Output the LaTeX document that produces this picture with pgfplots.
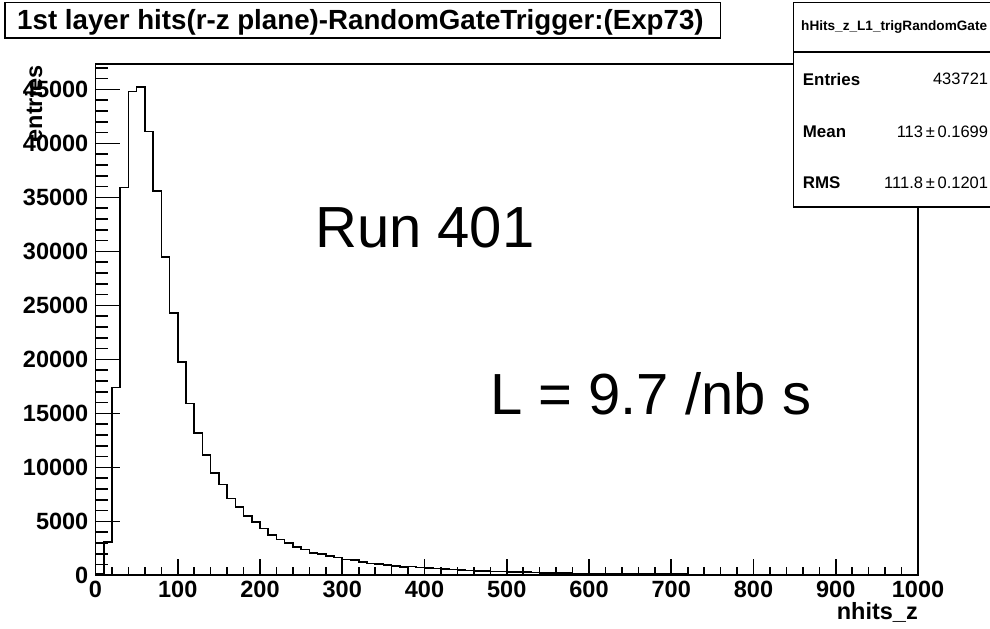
\documentclass[border=0pt]{standalone}
\usepackage{fontspec}
\setmainfont{Liberation Sans}
\usepackage{pgfplots}
\pgfplotsset{compat=1.18}
\newcommand{\tickfont}{\fontsize{23.5bp}{24bp}\selectfont\bfseries}
\begin{document}
\begin{tikzpicture}
\useasboundingbox (0bp,0bp) rectangle (990bp,629bp);
\clip (0bp,0bp) rectangle (990bp,629bp);
\fill[white] (0bp,0bp) rectangle (990bp,629bp);
% main axis: frame, y ticks, histogram
\begin{axis}[
  at={(95.5bp,53.7bp)}, anchor=south west,
  scale only axis, width=822.5bp, height=511.3bp,
  xmin=0, xmax=1000, ymin=0, ymax=47350,
  axis line style={line width=1.6bp, black},
  xtick=\empty,
  ytick={0,5000,...,45000},
  minor ytick={1000,2000,...,47000},
  ytick pos=left, tick align=inside,
  major tick length=25bp, minor tick length=12.7bp,
  tick style={line width=1.6bp, black},
  scaled y ticks=false,
  /pgf/number format/assume math mode=true,
  /pgf/number format/1000 sep={},
  yticklabel style={font=\tickfont, anchor=east, inner sep=0pt, xshift=-7bp},
]
\addplot[const plot, mark=none, line width=1.6bp, black] coordinates {
(0,150) (10,3100) (20,17400) (30,35900) (40,44800) (50,45200) (60,41100) (70,35600) (80,29450) (90,24300)
(100,19750) (110,15900) (120,13150) (130,11150) (140,9500) (150,8400) (160,7120) (170,6340) (180,5480) (190,4950)
(200,4340) (210,3710) (220,3310) (230,3000) (240,2620) (250,2400) (260,2090) (270,1960) (280,1780) (290,1660)
(300,1480) (310,1400) (320,1240) (330,1080) (340,1030) (350,960) (360,870) (370,760) (380,800) (390,720)
(400,700) (410,640) (420,570) (430,540) (440,480) (450,450) (460,420) (470,390) (480,360) (490,340)
(500,320) (510,300) (520,280) (530,260) (540,230) (550,215) (560,200) (570,190) (580,180) (590,170)
(600,160) (610,150) (620,145) (630,140) (640,135) (650,130) (660,125) (670,120) (680,110) (690,105)
(700,100) (710,95) (720,90) (730,85) (740,80) (750,75) (760,70) (770,65) (780,0) (790,0)
(800,0) (810,0) (820,0) (830,0) (840,0) (850,0) (860,0) (870,0) (880,0) (890,0)
(900,0) (910,0) (920,0) (930,0) (940,0) (950,0) (960,0) (970,0) (980,0) (990,0) (1000,0)
};
\end{axis}
% overlay axis: x ticks with their own lengths
\begin{axis}[
  at={(95.5bp,53.7bp)}, anchor=south west,
  scale only axis, width=822.5bp, height=511.3bp,
  xmin=0, xmax=1000, ymin=0, ymax=47350,
  hide y axis,
  axis line style={line width=1.6bp, black},
  xtick={0,100,...,1000},
  minor xtick={0,20,...,1000},
  xtick pos=left, tick align=inside,
  major tick length=16.7bp, minor tick length=8.3bp,
  tick style={line width=1.6bp, black},
  scaled x ticks=false,
  /pgf/number format/assume math mode=true,
  /pgf/number format/1000 sep={},
  xticklabel style={font=\tickfont, anchor=north, inner sep=0pt, yshift=-5.5bp},
]
\addplot[draw=none] coordinates {(0,0)};
\end{axis}
% axis labels
\node[rotate=90, anchor=base east, inner sep=0pt, font=\tickfont] at (42bp,564bp) {entries};
\node[anchor=base east, inner sep=0pt, font=\tickfont] at (918bp,10bp) {nhits\_z};
% title box
\draw[line width=1.6bp, fill=white] (5bp,591bp) rectangle (720.5bp,626.3bp);
\node[anchor=base west, inner sep=0pt, font=\fontsize{27.7bp}{28bp}\selectfont\bfseries] at (17bp,599.7bp) {1st layer hits(r-z plane)-RandomGateTrigger:(Exp73)};
% stats box
\draw[line width=1.6bp, fill=white] (793.3bp,421.7bp) rectangle (1000bp,626.3bp);
\draw[line width=1.6bp] (793.3bp,576.7bp) -- (1000bp,576.7bp);
\node[anchor=west, inner sep=0pt, font=\fontsize{13.6bp}{14bp}\selectfont\bfseries] at (801bp,602.3bp) {hHits\_z\_L1\_trigRandomGate};
\node[anchor=west, inner sep=0pt, font=\fontsize{16.9bp}{17bp}\selectfont\bfseries] at (802.7bp,550bp) {Entries};
\node[anchor=west, inner sep=0pt, font=\fontsize{16.9bp}{17bp}\selectfont\bfseries] at (802.7bp,497.3bp) {Mean};
\node[anchor=west, inner sep=0pt, font=\fontsize{16.9bp}{17bp}\selectfont\bfseries] at (802.7bp,446.3bp) {RMS};
\node[anchor=east, inner sep=0pt, font=\fontsize{16.5bp}{17bp}\selectfont] at (988.3bp,550bp) {433721};
\node[anchor=east, inner sep=0pt, font=\fontsize{16.5bp}{17bp}\selectfont] at (988.3bp,497.3bp) {113\,±\,0.1699};
\node[anchor=east, inner sep=0pt, font=\fontsize{16.5bp}{17bp}\selectfont] at (988.3bp,446.3bp) {111.8\,±\,0.1201};
% annotations
\node[anchor=base west, inner sep=0pt, font=\fontsize{58bp}{60bp}\selectfont] at (315bp,381bp) {Run 401};
\node[anchor=base west, inner sep=0pt, font=\fontsize{58bp}{60bp}\selectfont] at (490bp,214bp) {L = 9.7 /nb s};
\end{tikzpicture}
\end{document}
